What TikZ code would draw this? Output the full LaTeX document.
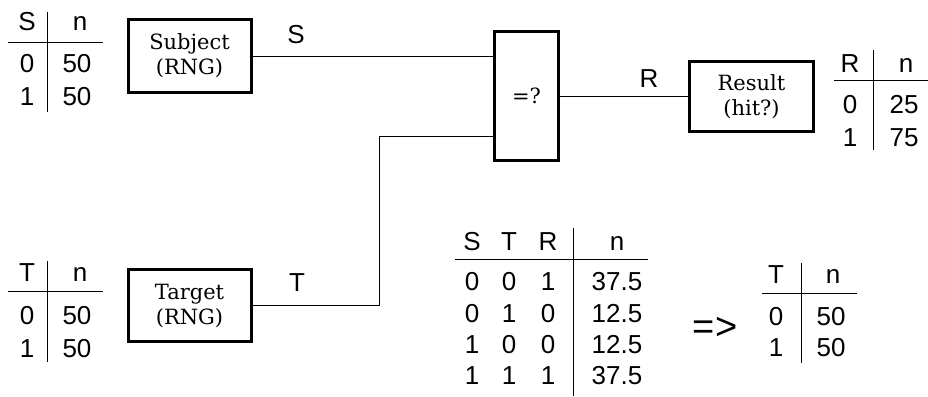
\documentclass[tikz,border=0pt]{standalone}
\usepackage{fontspec}
\setmainfont{DejaVu Serif}
\setsansfont{Liberation Sans}
\begin{document}
\begin{tikzpicture}[x=1pt,y=-1pt,
  blk/.style={draw, line width=3pt, inner sep=0pt, align=center,
    font=\fontsize{21}{25}\selectfont},
  wire/.style={line width=0.9pt},
  rule/.style={line width=0.9pt},
  cell/.style={inner sep=0pt, anchor=base, font=\sffamily\fontsize{26}{30}\selectfont},
  lbl/.style={inner sep=0pt, anchor=base, font=\sffamily\fontsize{26}{30}\selectfont}]
\useasboundingbox (0,0) rectangle (928,396);

% blocks
\node[blk, minimum width=123pt, minimum height=73pt] (sub) at (189.5,56) {Subject\\(RNG)};
\node[blk, minimum width=123pt, minimum height=72pt] (tgt) at (189.5,305.5) {Target\\(RNG)};
\node[blk, minimum width=64pt, minimum height=129pt] (eq) at (526.5,96) {=?};
\node[blk, minimum width=124pt, minimum height=70pt] (res) at (751.5,96.5) {Result\\(hit?)};

% connectors
\coordinate (knee) at (379.5,136);
\coordinate (eqin) at (493,136);
\draw[wire] (sub.east) -- (sub.east -| eq.west);
\draw[wire] (tgt.east) -| (knee) -- (eqin);
\draw[wire] (eq.east |- res.west) -- (res.west);

% wire labels
\node[lbl] (lS) at (296,44) {S};
\node[lbl] (lT) at (297,291) {T};
\node[lbl] (lR) at (649,87) {R};

% table S
\draw[rule] (47,12) -- (47,112);
\draw[rule] (8,42) -- (103,42);
\node[cell] (sh1) at (27,31) {S};
\node[cell] (sh2) at (80,31) {n};
\node[cell] (s01) at (27,73) {0};
\node[cell] (s02) at (77,73) {50};
\node[cell] (s11) at (27,105) {1};
\node[cell] (s12) at (77,105) {50};

% table T
\draw[rule] (47,261) -- (47,362);
\draw[rule] (8,291) -- (103,291);
\node[cell] (th1) at (27,281) {T};
\node[cell] (th2) at (80,281) {n};
\node[cell] (t01) at (27,324) {0};
\node[cell] (t02) at (77,324) {50};
\node[cell] (t11) at (27,357) {1};
\node[cell] (t12) at (77,357) {50};

% table R
\draw[rule] (873,50) -- (873,150);
\draw[rule] (834,80) -- (928,80);
\node[cell] (rh1) at (850,72) {R};
\node[cell] (rh2) at (906,72) {n};
\node[cell] (r01) at (850,113) {0};
\node[cell] (r02) at (904,113) {25};
\node[cell] (r11) at (850,146) {1};
\node[cell] (r12) at (904,146) {75};

% joint table
\draw[rule] (573,228) -- (573,396);
\draw[rule] (455,259) -- (648,259);
\node[cell] (jh1) at (472,250) {S};
\node[cell] (jh2) at (509,250) {T};
\node[cell] (jh3) at (548,250) {R};
\node[cell] (jh4) at (617,250) {n};
\node[cell] (ja1) at (472,290) {0};
\node[cell] (ja2) at (509,290) {0};
\node[cell] (ja3) at (548,290) {1};
\node[cell] (ja4) at (617,290) {37.5};
\node[cell] (jb1) at (472,322) {0};
\node[cell] (jb2) at (509,322) {1};
\node[cell] (jb3) at (548,322) {0};
\node[cell] (jb4) at (617,322) {12.5};
\node[cell] (jc1) at (472,353) {1};
\node[cell] (jc2) at (509,353) {0};
\node[cell] (jc3) at (548,353) {0};
\node[cell] (jc4) at (617,353) {12.5};
\node[cell] (jd1) at (472,384) {1};
\node[cell] (jd2) at (509,384) {1};
\node[cell] (jd3) at (548,384) {1};
\node[cell] (jd4) at (617,384) {37.5};

% arrow text
\node[inner sep=0pt, font=\sffamily\fontsize{38}{40}\selectfont] (imp) at (715,328) {=>};

% marginal T table
\draw[rule] (801,263) -- (801,363);
\draw[rule] (762,293) -- (857,293);
\node[cell] (mh1) at (776,283) {T};
\node[cell] (mh2) at (833,283) {n};
\node[cell] (m01) at (776,325) {0};
\node[cell] (m02) at (831,325) {50};
\node[cell] (m11) at (776,356) {1};
\node[cell] (m12) at (831,356) {50};
\end{tikzpicture}
\end{document}
